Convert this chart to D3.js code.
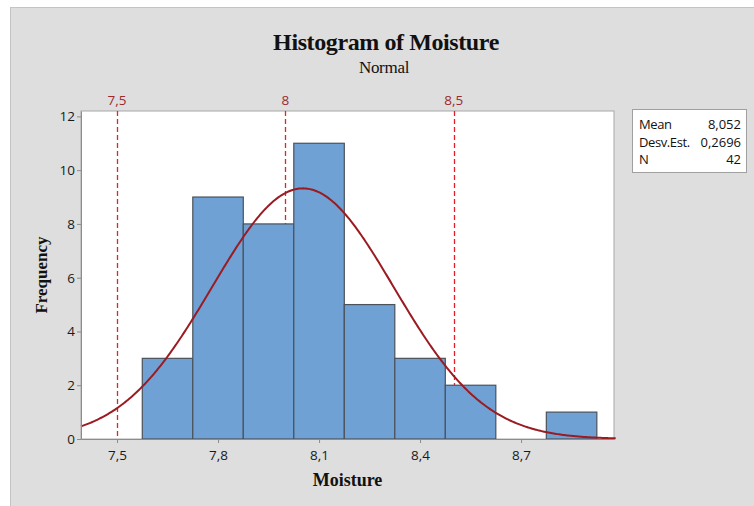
<!DOCTYPE html>
<html>
<head>
<meta charset="utf-8">
<script src="https://cdn.jsdelivr.net/npm/d3@7"></script>
<style>
  body { margin: 0; background: #fff; }
  svg { display: block; }
</style>
</head>
<body>
<svg id="chart" width="754" height="506"></svg>
<script>
// Bin centres and counts
const binCenters = [7.65, 7.8, 7.95, 8.1, 8.25, 8.4, 8.55, 8.7, 8.85]
const counts = [3, 9, 8, 11, 5, 3, 2, 0, 1]
const binWidth = 0.15
const xTicks = [7.5, 7.8, 8.1, 8.4, 8.7]
const yTicks = [0, 2, 4, 6, 8, 10, 12]
const refLines = [7.5, 8, 8.5]
const statLabels = ['Mean', 'Desv.Est.', 'N']
const statValues = ['8,052', '0,2696', '42']
const mean = 8.052, sd = 0.2696, n = 42

const svg = d3.select('#chart')
const fmt = v => String(v).replace('.', ',')

// Outer gray panel
svg.append('rect')
    .attr('x', 10.5).attr('y', 7.5)
    .attr('width', 760).attr('height', 520)
    .attr('fill', '#dedede').attr('stroke', '#c4c4c4')

const plot = { left: 81, right: 614, top: 111, bottom: 439 }

const x = d3.scaleLinear().domain([7.393, 8.976]).range([plot.left, plot.right])
const y = d3.scaleLinear().domain([0, 12.2]).range([plot.bottom, plot.top])

// Plot background
svg.append('rect')
    .attr('x', plot.left).attr('y', plot.top)
    .attr('width', plot.right - plot.left).attr('height', plot.bottom - plot.top)
    .attr('fill', '#fff').attr('stroke', '#a8a8a8')

// Reference lines (behind the bars)
svg.append('g').selectAll('line')
    .data(refLines)
    .enter()
    .append('line')
    .attr('x1', d => Math.round(x(d)) + 0.5).attr('x2', d => Math.round(x(d)) + 0.5)
    .attr('y1', plot.top).attr('y2', plot.bottom)
    .attr('stroke', '#e8202a')
    .attr('stroke-width', 1.3)
    .attr('stroke-dasharray', '5,3')

svg.append('g').selectAll('text')
    .data(refLines)
    .enter()
    .append('text')
    .attr('x', d => x(d)).attr('y', 105)
    .attr('text-anchor', 'middle')
    .attr('font-family', 'Open Sans, sans-serif')
    .attr('font-size', 13.5)
    .attr('fill', '#9c2a30')
    .text(d => fmt(d))

// Bars
svg.append('g').selectAll('rect')
    .data(binCenters.map((c, i) => ({ c: c, n: counts[i] })).filter(d => d.n > 0))
    .enter()
    .append('rect')
    .attr('x', d => x(d.c - binWidth / 2))
    .attr('y', d => y(d.n))
    .attr('width', d => x(d.c + binWidth / 2) - x(d.c - binWidth / 2))
    .attr('height', d => y(0) - y(d.n))
    .attr('fill', '#6fa1d4')
    .attr('stroke', '#4b525a')
    .attr('stroke-width', 1.2)

// Fitted normal curve
const scale = n * binWidth
const pdf = v => scale * Math.exp(-0.5 * Math.pow((v - mean) / sd, 2)) / (sd * Math.sqrt(2 * Math.PI))
const curveX = d3.range(7.393, 8.985, 0.004)
svg.append('path')
    .datum(curveX)
    .attr('d', d3.line().x(d => x(d)).y(d => y(pdf(d))))
    .attr('fill', 'none')
    .attr('stroke', '#9b1b22')
    .attr('stroke-width', 2)

// Axes
const xAxis = svg.append('g')
    .attr('transform', `translate(0,${plot.bottom})`)
    .call(d3.axisBottom(x).tickValues(xTicks).tickFormat(fmt).tickSize(4).tickSizeOuter(0))
const yAxis = svg.append('g')
    .attr('transform', `translate(${plot.left},0)`)
    .call(d3.axisLeft(y).tickValues(yTicks).tickSize(4).tickSizeOuter(0))

;[xAxis, yAxis].forEach(a => {
    a.select('.domain').attr('stroke', '#8c8c8c')
    a.selectAll('.tick line').attr('stroke', '#8c8c8c')
    a.selectAll('.tick text')
        .attr('font-family', 'Open Sans, sans-serif')
        .attr('font-size', 13.5)
        .attr('fill', '#1a1a1a')
})
xAxis.selectAll('.tick text').attr('dy', '1.0em')
yAxis.selectAll('.tick text').attr('x', -6)

// Titles
svg.append('text')
    .attr('x', 386).attr('y', 50)
    .attr('text-anchor', 'middle')
    .attr('font-family', 'Liberation Serif, serif')
    .attr('font-weight', 'bold')
    .attr('font-size', 24)
    .attr('letter-spacing', -0.4)
    .attr('fill', '#111')
    .text('Histogram of Moisture')

svg.append('text')
    .attr('x', 384).attr('y', 73)
    .attr('text-anchor', 'middle')
    .attr('font-family', 'Liberation Serif, serif')
    .attr('font-size', 17)
    .attr('letter-spacing', -0.3)
    .attr('fill', '#111')
    .text('Normal')

svg.append('text')
    .attr('x', (plot.left + plot.right) / 2).attr('y', 486)
    .attr('text-anchor', 'middle')
    .attr('font-family', 'Liberation Serif, serif')
    .attr('font-weight', 'bold')
    .attr('font-size', 18)
    .attr('fill', '#111')
    .text('Moisture')

svg.append('text')
    .attr('transform', `translate(47,${(plot.top + plot.bottom) / 2}) rotate(-90)`)
    .attr('text-anchor', 'middle')
    .attr('font-family', 'Liberation Serif, serif')
    .attr('font-weight', 'bold')
    .attr('font-size', 17)
    .attr('fill', '#111')
    .text('Frequency')

// Stats box
const box = svg.append('g').attr('transform', 'translate(632,109)')
box.append('rect')
    .attr('x', 0.5).attr('y', 0.5)
    .attr('width', 114).attr('height', 63)
    .attr('fill', '#fff').attr('stroke', '#a0a0a0')
statLabels.forEach((label, i) => {
    box.append('text')
        .attr('x', 7).attr('y', 20 + i * 17.5)
        .attr('font-family', 'Open Sans, sans-serif')
        .attr('font-size', 13)
        .attr('letter-spacing', -0.4)
        .attr('fill', '#111')
        .text(label)
    box.append('text')
        .attr('x', 109).attr('y', 20 + i * 17.5)
        .attr('text-anchor', 'end')
        .attr('font-family', 'Open Sans, sans-serif')
        .attr('font-size', 13)
        .attr('fill', '#111')
        .text(statValues[i])
})
</script>
</body>
</html>
